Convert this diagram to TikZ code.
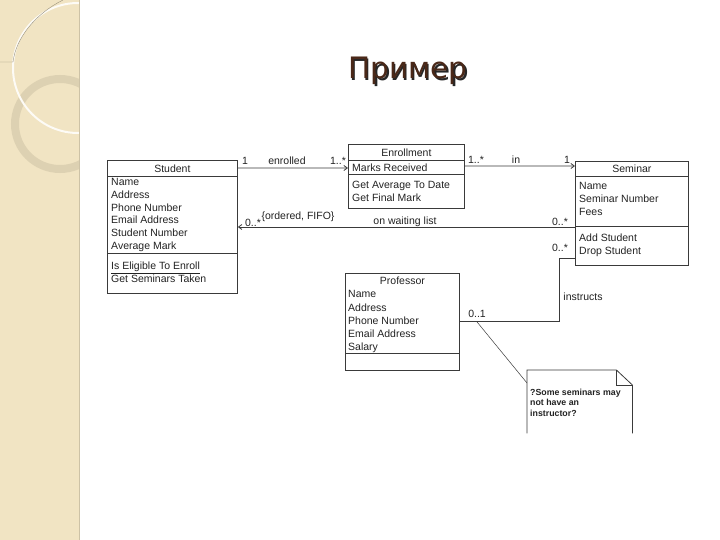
\documentclass[tikz,border=0pt]{standalone}
\usepackage{fontspec}
\setmainfont{Liberation Sans}
\newfontfamily\titlefont{DejaVu Sans}
\usepackage{tikz}
\usetikzlibrary{arrows.meta,calc,positioning}
\usepackage{xcolor}
\definecolor{band}{HTML}{F1E4C3}
\definecolor{ringc}{HTML}{D9CDAE}
\definecolor{titlebrown}{HTML}{4A2818}
\definecolor{umlline}{HTML}{3A3A3A}
\definecolor{umltext}{HTML}{222222}

\tikzset{
  umlbox/.style={draw=umlline, line width=0.8bp, inner sep=0pt, anchor=north west},
  ctitle/.style={font=\fontsize{10.5bp}{12.8bp}\selectfont, text=umltext, inner sep=0pt},
  clist/.style={font=\fontsize{10.5bp}{12.8bp}\selectfont, text=umltext, align=left, inner sep=0pt, anchor=north west},
  lbl/.style={font=\fontsize{10.5bp}{12bp}\selectfont, text=umltext, inner sep=0pt},
  assoc/.style={draw=umlline, line width=0.8bp},
  nav/.style={assoc, -{Straight Barb[length=3.5bp,width=5bp]}},
}

\begin{document}
\begin{tikzpicture}[x=1bp, y=-1bp]
  \useasboundingbox (0,0) rectangle (720,540);
  % side band
  \begin{scope}
    \clip (0,0) rectangle (79,540);
    \fill[band] (0,0) rectangle (79,540);
    \draw[ringc, line width=8bp, opacity=.8] (60,124) circle[radius=45bp];
    \draw[white!85!band, line width=2bp] (78,68) circle[radius=65bp];
    \draw[ringc!70!black, line width=0.4bp] (63,0) .. controls (35,14) and (16,38) .. (13,62) -- (0,62);
  \end{scope}
  \draw[band!85!black, line width=0.6bp] (79,0) -- (79,540);
  % title
  \node[font=\titlefont\fontsize{29.5bp}{30bp}\selectfont, text=black!85, anchor=base] (titleShadow) at (409.5,80.5) {Пример};
  \node[font=\titlefont\fontsize{29.5bp}{30bp}\selectfont, text=titlebrown, anchor=base] (title) at (408,79) {Пример};

  % classes
  \node[umlbox, minimum width=130bp, minimum height=133bp] (student) at (107,160) {};
  \draw[assoc] ([yshift=-16bp]student.north west) -- ([yshift=-16bp]student.north east);
  \draw[assoc] ([yshift=-93bp]student.north west) -- ([yshift=-93bp]student.north east);
  \node[ctitle, below=4.5bp of student.north] (studentT) {Student};
  \node[clist] (studentA) at ([xshift=4bp,yshift=-18bp]student.north west) {Name\\Address\\Phone Number\\Email Address\\Student Number\\Average Mark};
  \node[clist] (studentM) at ([xshift=4bp,yshift=-102bp]student.north west) {\underline{Is Eligible To Enroll}\\Get Seminars Taken};

  \node[umlbox, minimum width=116bp, minimum height=64bp] (enroll) at (348,144) {};
  \draw[assoc] ([yshift=-16bp]enroll.north west) -- ([yshift=-16bp]enroll.north east);
  \draw[assoc] ([yshift=-30bp]enroll.north west) -- ([yshift=-30bp]enroll.north east);
  \node[ctitle, below=4.5bp of enroll.north] (enrollT) {Enrollment};
  \node[clist] (enrollA) at ([xshift=4bp,yshift=-20bp]enroll.north west) {Marks Received};
  \node[clist] (enrollM) at ([xshift=4bp,yshift=-37bp]enroll.north west) {Get Average To Date\\Get Final Mark};

  \node[umlbox, minimum width=113bp, minimum height=104bp] (seminar) at (575,161) {};
  \draw[assoc] ([yshift=-15bp]seminar.north west) -- ([yshift=-15bp]seminar.north east);
  \draw[assoc] ([yshift=-65bp]seminar.north west) -- ([yshift=-65bp]seminar.north east);
  \node[ctitle, below=3.5bp of seminar.north] (seminarT) {Seminar};
  \node[clist] (seminarA) at ([xshift=4bp,yshift=-21bp]seminar.north west) {Name\\Seminar Number\\Fees};
  \node[clist] (seminarM) at ([xshift=4bp,yshift=-73bp]seminar.north west) {Add Student\\Drop Student};

  \node[umlbox, minimum width=114bp, minimum height=97bp] (prof) at (345,273) {};
  \draw[assoc] ([yshift=-80bp]prof.north west) -- ([yshift=-80bp]prof.north east);
  \node[ctitle, below=4bp of prof.north] (profT) {Professor};
  \node[clist, font=\fontsize{10.5bp}{13.1bp}\selectfont] (profA) at ([xshift=3bp,yshift=-17.5bp]prof.north west) {Name\\Address\\Phone Number\\Email Address\\Salary};

  % note
  \node[inner sep=0pt, minimum width=105bp, minimum height=63bp, anchor=north west] (note) at (527,370) {};
  \draw[assoc] (note.south west) -- (note.north west) -- ([xshift=-16bp]note.north east) -- ([yshift=-15bp]note.north east) -- (note.south east);
  \draw[assoc] ([xshift=-16bp]note.north east) |- ([yshift=-15bp]note.north east);
  \node[clist, font=\bfseries\fontsize{8.8bp}{10.5bp}\selectfont] (noteT) at ([xshift=3bp,yshift=-18.5bp]note.north west) {?Some seminars may\\not have an\\instructor?};

  % associations
  \draw[nav] ([yshift=-8bp]student.north east) -- ([yshift=-24bp]enroll.north west);
  \draw[nav] ([yshift=-22bp]enroll.north east) -- ([yshift=-5bp]seminar.north west);
  \draw[nav] ([yshift=-66bp]seminar.north west) -- ([yshift=-67bp]student.north east);
  \draw[assoc] ([yshift=-97bp]seminar.north west) -- ++(-16bp,0) |- ([yshift=-48bp]prof.north east);

  % labels
  \node[lbl] (enrM1) at (245,161) {1};
  \node[lbl] (enrName) at (287,161) {enrolled};
  \node[lbl] (enrM2) at (338,161) {1..*};
  \node[lbl] (inM1) at (476,160) {1..*};
  \node[lbl] (inName) at (516,160) {in};
  \node[lbl] (inM2) at (567,160) {1};
  \node[lbl] (waitM1) at (253,223) {0..*};
  \node[lbl] (waitC) at (298,217) {\{ordered, FIFO\}};
  \node[lbl] (waitName) at (405,222) {on waiting list};
  \node[lbl] (waitM2) at (560,222) {0..*};
  \node[lbl] (instM1) at (560,248) {0..*};
  \node[lbl] (instName) at (583,297) {instructs};
  \node[lbl] (instM2) at (477,314) {0..1};

  % note anchor
  \draw[umlline, line width=0.5bp] ([yshift=-4bp]instM2.south) -- ([yshift=-13bp]note.north west);
\end{tikzpicture}
\end{document}
